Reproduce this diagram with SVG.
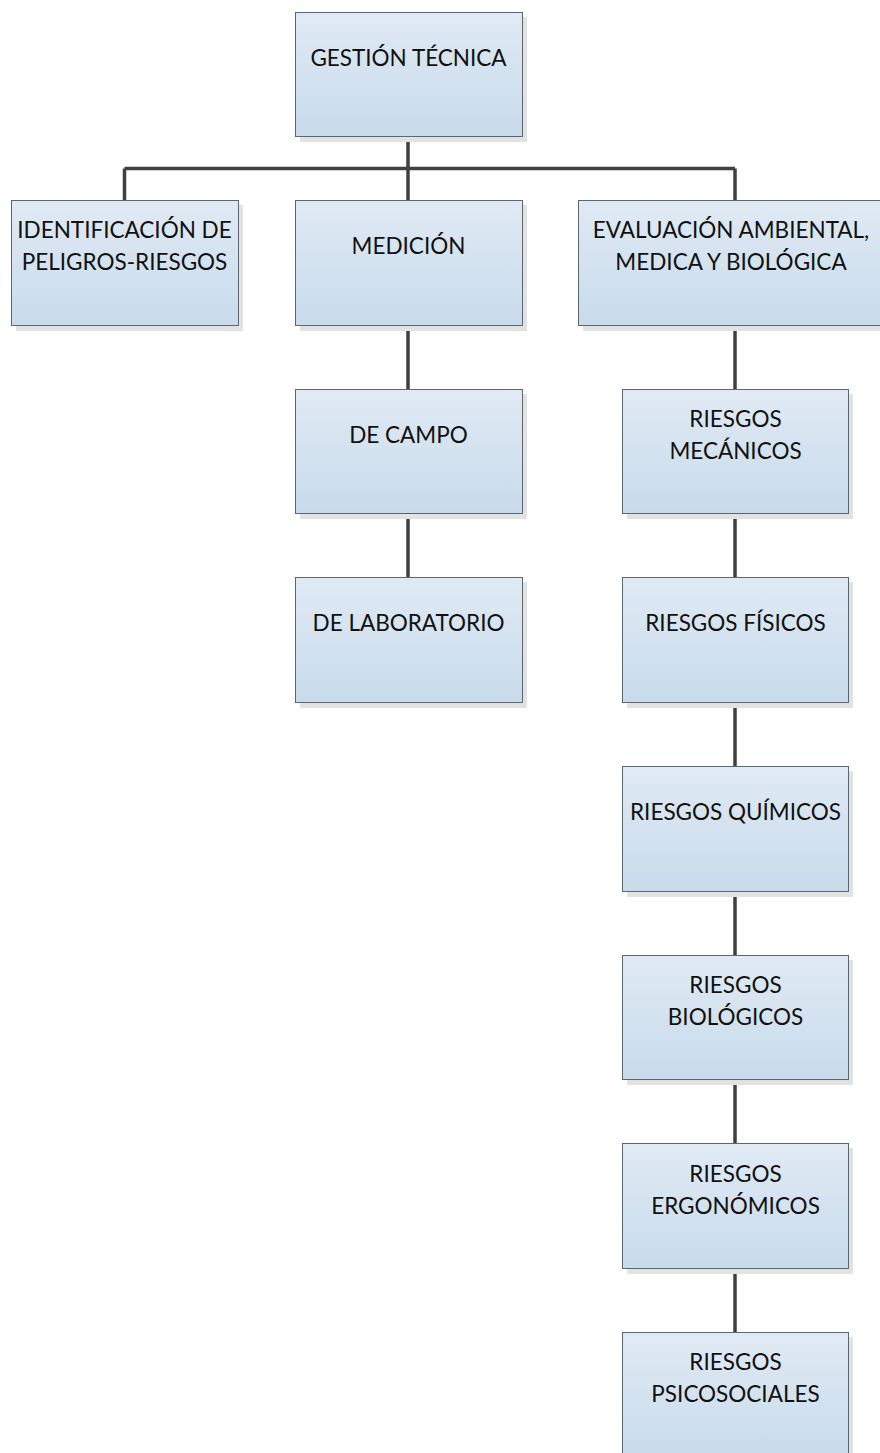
<svg xmlns="http://www.w3.org/2000/svg" width="880" height="1453" viewBox="0 0 880 1453">
<defs>
<linearGradient id="fill" x1="0" y1="0" x2="0" y2="1">
<stop offset="0" stop-color="#e0eaf4"/>
<stop offset="1" stop-color="#c8dbeb"/>
</linearGradient>
</defs>
<style>
.sh{fill:#e2e2e2}
.bx{fill:url(#fill);stroke:#5c6670;stroke-width:1}
.t{font-family:Lato,"Liberation Sans",sans-serif;font-size:22.5px;fill:#111111;text-anchor:middle}
.c{stroke:#404040;stroke-width:3.5;fill:none}
</style>
<rect width="880" height="1453" fill="#ffffff"/>
<g id="connectors">
<path class="c" d="M408 137V200M124.5 168.5H735M124.5 168.5V200M735 168.5V200"/>
<path class="c" d="M408 326V389M408 514V577"/>
<path class="c" d="M735 326V389M735 514V577M735 703V766M735 892V955M735 1080V1143M735 1269V1332"/>
</g>
<g id="gestion">
<rect class="sh" x="300" y="17" width="227" height="125"/>
<rect class="bx" x="295.5" y="12.5" width="227" height="124"/>
<text class="t" x="408.5" y="66">GESTIÓN TÉCNICA</text>
</g>
<g id="identificacion">
<rect class="sh" x="16" y="205" width="227" height="126"/>
<rect class="bx" x="11.5" y="200.5" width="227" height="125"/>
<text class="t" x="124.5" y="238">IDENTIFICACIÓN DE</text>
<text class="t" x="124.5" y="270">PELIGROS-RIESGOS</text>
</g>
<g id="medicion">
<rect class="sh" x="300" y="205" width="227" height="126"/>
<rect class="bx" x="295.5" y="200.5" width="227" height="125"/>
<text class="t" x="408.5" y="254">MEDICIÓN</text>
</g>
<g id="evaluacion">
<rect class="sh" x="583" y="205" width="314" height="126"/>
<rect class="bx" x="578.5" y="200.5" width="314" height="125"/>
<text class="t" x="731" y="238">EVALUACIÓN AMBIENTAL,</text>
<text class="t" x="731" y="270">MEDICA Y BIOLÓGICA</text>
</g>
<g id="campo">
<rect class="sh" x="300" y="394" width="227" height="125"/>
<rect class="bx" x="295.5" y="389.5" width="227" height="124"/>
<text class="t" x="408.5" y="443">DE CAMPO</text>
</g>
<g id="laboratorio">
<rect class="sh" x="300" y="582" width="227" height="126"/>
<rect class="bx" x="295.5" y="577.5" width="227" height="125"/>
<text class="t" x="408.5" y="631">DE LABORATORIO</text>
</g>
<g id="mecanicos">
<rect class="sh" x="627" y="394" width="226" height="125"/>
<rect class="bx" x="622.5" y="389.5" width="226" height="124"/>
<text class="t" x="735.5" y="427">RIESGOS</text>
<text class="t" x="735.5" y="459">MECÁNICOS</text>
</g>
<g id="fisicos">
<rect class="sh" x="627" y="582" width="226" height="126"/>
<rect class="bx" x="622.5" y="577.5" width="226" height="125"/>
<text class="t" x="735.5" y="631">RIESGOS FÍSICOS</text>
</g>
<g id="quimicos">
<rect class="sh" x="627" y="771" width="226" height="126"/>
<rect class="bx" x="622.5" y="766.5" width="226" height="125"/>
<text class="t" x="735.5" y="820">RIESGOS QUÍMICOS</text>
</g>
<g id="biologicos">
<rect class="sh" x="627" y="960" width="226" height="125"/>
<rect class="bx" x="622.5" y="955.5" width="226" height="124"/>
<text class="t" x="735.5" y="993">RIESGOS</text>
<text class="t" x="735.5" y="1025">BIOLÓGICOS</text>
</g>
<g id="ergonomicos">
<rect class="sh" x="627" y="1148" width="226" height="126"/>
<rect class="bx" x="622.5" y="1143.5" width="226" height="125"/>
<text class="t" x="735.5" y="1182">RIESGOS</text>
<text class="t" x="735.5" y="1214">ERGONÓMICOS</text>
</g>
<g id="psicosociales">
<rect class="sh" x="627" y="1337" width="226" height="126"/>
<rect class="bx" x="622.5" y="1332.5" width="226" height="126"/>
<text class="t" x="735.5" y="1370">RIESGOS</text>
<text class="t" x="735.5" y="1402">PSICOSOCIALES</text>
</g>
</svg>
